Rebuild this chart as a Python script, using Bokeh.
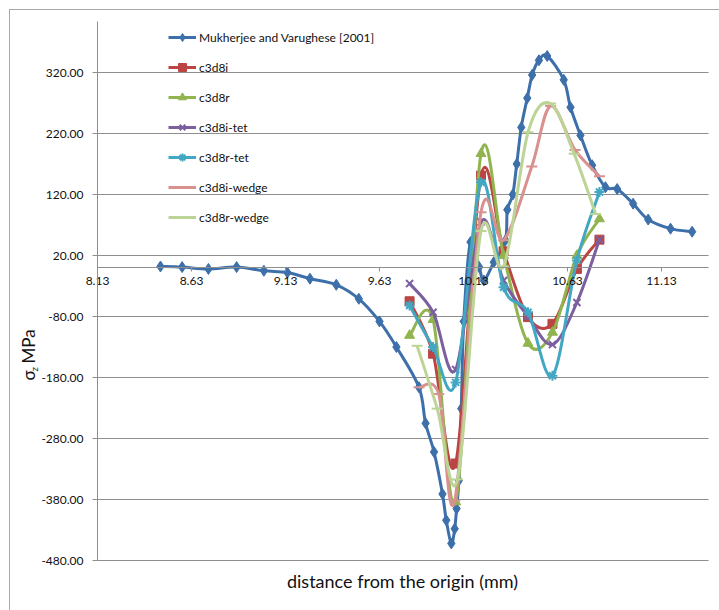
import math
import numpy as np
from bokeh.plotting import figure
from bokeh.models import (ColumnDataSource, FixedTicker, Legend, LegendItem, Label,
                          NumeralTickFormatter, Range1d)
from bokeh.embed import file_html
from bokeh.resources import INLINE

# ---------------- data ----------------
x_muk = [8.465, 8.58, 8.72, 8.87, 9.015, 9.14, 9.26, 9.40, 9.52, 9.63, 9.72, 9.84, 9.875,
         9.92, 9.965, 9.985, 10.012, 10.03, 10.04, 10.052, 10.065, 10.078, 10.114, 10.16,
         10.185, 10.238, 10.30, 10.31, 10.339, 10.36, 10.384, 10.416, 10.442, 10.478,
         10.522, 10.61, 10.646, 10.699, 10.761, 10.832, 10.894, 10.979, 11.059, 11.178, 11.293]
y_muk = [2, 1, -2, 1, -5, -8, -18, -28, -51, -88, -130, -196, -255,
         -302, -371, -414, -452, -428, -395, -349, -231, -88, 42, 1,
         -21, 9, 45, 95, 120, 170, 230, 278, 316, 340,
         347, 308, 263, 217, 168, 132, 129, 105, 79, 64, 59]

x_sim = [9.79, 9.915, 10.035, 10.17, 10.29, 10.42, 10.55, 10.68, 10.80]
y_c3d8i = [-55, -141, -321, 151, 27, -81, -92, -2, 46]
y_c3d8r = [-111, -85, -384, 187, 20, -124, -106, 20, 80]
y_c3d8i_tet = [-26, -73, -167, 75, -21, -80, -126, -57, 46]
y_c3d8r_tet = [-62, -130, -188, 140, -32, -73, -177, 12, 124]

x_c3d8i_wedge = [9.84, 9.945, 10.03, 10.17, 10.29, 10.44, 10.54, 10.67, 10.80]
y_c3d8i_wedge = [-196, -207, -382, 91, 45, 166, 265, 193, 150]
x_c3d8r_wedge = [9.83, 9.937, 10.045, 10.17, 10.29, 10.42, 10.54, 10.665, 10.78]
y_c3d8r_wedge = [-128, -231, -347, 60, 2, 222, 269, 187, 88]

series_names = ["Mukherjee and Varughese [2001]", "c3d8i", "c3d8r", "c3d8i-tet",
                "c3d8r-tet", "c3d8i-wedge", "c3d8r-wedge"]

y_ticks = [-480, -380, -280, -180, -80, 20, 120, 220, 320]
x_ticks = [8.13, 8.63, 9.13, 9.63, 10.13, 10.63, 11.13]

# axis extents (Excel plot area)
x_min, x_max = 8.13, 11.38
y_min, y_max = -480, 403.6

# ---------------- styles ----------------
colors = ["#3D6FAA", "#BA4542", "#91B44F", "#7C5F9E", "#42A7C2", "#D8918F", "#BDD497"]
markers = ["diamond", "square", "triangle", "x", "asterisk", "dash", "dash"]
msizes = [11, 9, 10, 10, 10, 11, 11]
FONT = "Lato"
GRID = "#8E8E8E"
TXT = "#111111"


def bezier_source(xs, ys):
    x = np.asarray(xs, float)
    y = np.asarray(ys, float)
    n = len(x)
    xp = np.concatenate([[x[0]], x, [x[-1]]])
    yp = np.concatenate([[y[0]], y, [y[-1]]])
    k = 1.0 / 6.0
    return ColumnDataSource(dict(
        x0=x[:-1], y0=y[:-1], x1=x[1:], y1=y[1:],
        cx0=x[:-1] + (xp[2:n + 1] - xp[0:n - 1]) * k,
        cy0=y[:-1] + (yp[2:n + 1] - yp[0:n - 1]) * k,
        cx1=x[1:] - (xp[3:n + 2] - xp[1:n]) * k,
        cy1=y[1:] - (yp[3:n + 2] - yp[1:n]) * k,
    ))


# canvas 709x600 placed at page (10,10); frame covers the whole canvas
# page x = 97 + 188*(x-8.13) ; page y = 267.2 - 0.61*y
p = figure(width=709, height=600, output_backend="svg", toolbar_location=None,
           x_range=Range1d(8.13 - 87 / 188, 8.13 + 622 / 188),
           y_range=Range1d(-(610 - 267.2) / 0.61, (267.2 - 10) / 0.61),
           min_border_left=0, min_border_right=0, min_border_top=0, min_border_bottom=0,
           margin=(10, 0, 0, 10), styles={"outline": "1px solid #A8A8A8"})
p.background_fill_color = "white"
p.border_fill_color = "white"
p.outline_line_color = None
p.xgrid.visible = False
p.ygrid.visible = False

# horizontal gridlines limited to the plot area
p.segment(x0=[x_min] * len(y_ticks), y0=y_ticks, x1=[x_max] * len(y_ticks), y1=y_ticks,
          line_color=GRID, line_width=1)

yax = p.yaxis[0]
yax.fixed_location = x_min
yax.bounds = (y_min, y_max)
yax.ticker = FixedTicker(ticks=y_ticks)
yax.formatter = NumeralTickFormatter(format="0.00")
yax.axis_line_color = GRID
yax.major_tick_line_color = GRID
yax.minor_tick_line_color = None
yax.major_tick_out = 5
yax.major_tick_in = 0
yax.major_label_standoff = 9
yax.major_label_text_font = FONT
yax.major_label_text_font_size = "12px"
yax.major_label_text_color = TXT

xax = p.xaxis[0]
xax.fixed_location = 0
xax.bounds = (x_min, x_max)
xax.ticker = FixedTicker(ticks=x_ticks)
xax.formatter = NumeralTickFormatter(format="0.00")
xax.axis_line_color = GRID
xax.major_tick_line_color = GRID
xax.minor_tick_line_color = None
xax.major_tick_out = 4
xax.major_tick_in = 0
xax.major_label_standoff = 5
xax.major_label_text_font = FONT
xax.major_label_text_font_size = "12px"
xax.major_label_text_color = TXT

# data series
all_x = [x_muk, x_sim, x_sim, x_sim, x_sim, x_c3d8i_wedge, x_c3d8r_wedge]
all_y = [y_muk, y_c3d8i, y_c3d8r, y_c3d8i_tet, y_c3d8r_tet, y_c3d8i_wedge, y_c3d8r_wedge]

items = []
for name, xs, ys, c, m, s in zip(series_names, all_x, all_y, colors, markers, msizes):
    src = bezier_source(xs, ys)
    p.bezier(x0="x0", y0="y0", x1="x1", y1="y1", cx0="cx0", cy0="cy0", cx1="cx1", cy1="cy1",
             source=src, line_color=c, line_width=3)
    lw = 2 if m in ("x", "asterisk", "dash") else 1
    p.scatter(x=xs, y=ys, marker=m, size=s, fill_color=c, line_color=c, line_width=lw)
    # off-screen proxies used only for the legend sample
    lr = p.line(x=[0, 0], y=[0, 0], line_color=c, line_width=3)
    sr = p.scatter(x=[0], y=[0], marker=m, size=s, fill_color=c, line_color=c, line_width=lw)
    items.append(LegendItem(label=name, renderers=[lr, sr]))

legend = Legend(items=items, location=(158, 383), orientation="vertical",
                glyph_width=28, glyph_height=20, label_height=20, spacing=10,
                padding=0, margin=0, label_standoff=3,
                label_text_font=FONT, label_text_font_size="12px", label_text_color=TXT,
                background_fill_alpha=0, border_line_alpha=0)
p.add_layout(legend)

# axis titles (screen units: from canvas left / bottom)
p.add_layout(Label(x=392, y=30, x_units="screen", y_units="screen",
                   text="distance from the origin (mm)", text_align="center",
                   text_baseline="middle", text_font=FONT, text_font_size="18px",
                   text_color=TXT))
sy0 = 610 - 380
p.add_layout(Label(x=18, y=sy0, x_units="screen", y_units="screen", text="σ",
                   angle=math.pi / 2, text_align="left", text_baseline="middle",
                   text_font=FONT, text_font_size="17px", text_color=TXT))
p.add_layout(Label(x=23, y=sy0 + 9, x_units="screen", y_units="screen", text="z",
                   angle=math.pi / 2, text_align="left", text_baseline="middle",
                   text_font=FONT, text_font_size="10px", text_color=TXT))
p.add_layout(Label(x=18, y=sy0 + 17, x_units="screen", y_units="screen", text="MPa",
                   angle=math.pi / 2, text_align="left", text_baseline="middle",
                   text_font=FONT, text_font_size="17px", text_color=TXT))

open("out.html", "w").write(file_html(p, INLINE))
